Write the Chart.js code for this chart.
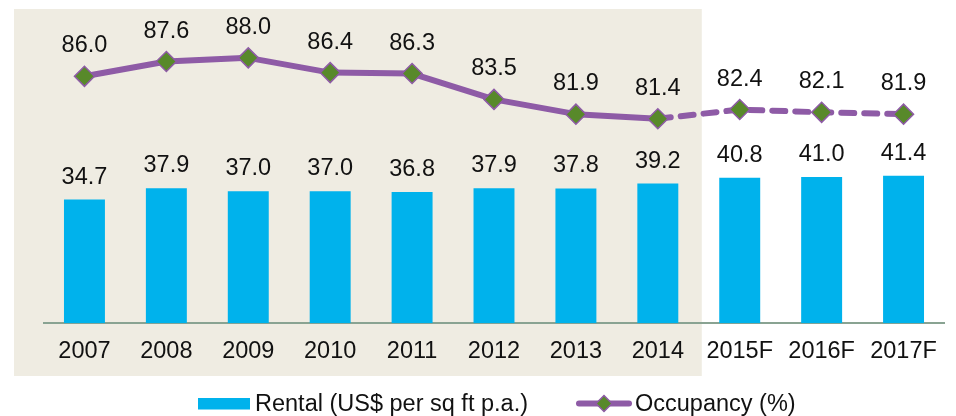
<!DOCTYPE html>
<html>
<head>
<meta charset="utf-8">
<title>Rental and Occupancy</title>
<script src="https://cdn.jsdelivr.net/npm/chart.js@4.4.0/dist/chart.umd.min.js"></script>
<style>
    html, body { margin: 0; padding: 0; background: #ffffff; }
    #wrap { width: 956px; height: 416px; }
</style>
</head>
<body>
<div id="wrap"><canvas id="chart" width="956" height="416"></canvas></div>
<script>
// Chart data
const years = ['2007', '2008', '2009', '2010', '2011', '2012', '2013', '2014', '2015F', '2016F', '2017F'];
const rental = [34.7, 37.9, 37.0, 37.0, 36.8, 37.9, 37.8, 39.2, 40.8, 41.0, 41.4];
const occupancy = [86.0, 87.6, 88.0, 86.4, 86.3, 83.5, 81.9, 81.4, 82.4, 82.1, 81.9];
const lastActual = 7; // index of 2014, forecasts start after it

const rentalLabel = 'Rental (US$ per sq ft p.a.)';
const occupancyLabel = 'Occupancy (%)';

const FONT = '"Liberation Sans", Arial, sans-serif';
const BLUE = '#00B2EC';
const PURPLE = '#8E5BA6';
const GREEN = '#58892A';
const SHADE = '#EFECE2';

/**
 * Shaded panel behind the actual (non forecast) years
 */
const shadePlugin = {
    id: 'shade',
    beforeDraw(chart) {
        const ctx = chart.ctx;
        const x = chart.scales.x;
        const right = (x.getPixelForValue(lastActual) + x.getPixelForValue(lastActual + 1)) / 2 + 3;
        ctx.save();
        ctx.fillStyle = SHADE;
        ctx.fillRect(14, 9, right - 14, 367);
        ctx.restore();
    }
};

/**
 * Value labels above bars and line points
 */
const valueLabelPlugin = {
    id: 'valueLabels',
    afterDatasetsDraw(chart) {
        const ctx = chart.ctx;
        ctx.save();
        ctx.font = '23.5px ' + FONT;
        ctx.fillStyle = '#111111';
        ctx.textAlign = 'center';
        ctx.textBaseline = 'alphabetic';
        chart.data.datasets.forEach((ds, i) => {
            const meta = chart.getDatasetMeta(i);
            const gap = ds.type === 'line' ? 24 : 16;
            meta.data.forEach((el, j) => {
                ctx.fillText(ds.data[j].toFixed(1), el.x, el.y - gap);
            });
        });
        ctx.restore();
    }
};

/**
 * Legend drawn under the axis
 */
const legendPlugin = {
    id: 'customLegend',
    afterDraw(chart) {
        const ctx = chart.ctx;
        const y = 403.5;
        ctx.save();
        ctx.fillStyle = BLUE;
        ctx.fillRect(198, 398, 52, 11.5);

        ctx.strokeStyle = PURPLE;
        ctx.lineWidth = 6;
        ctx.lineCap = 'round';
        ctx.beginPath();
        ctx.moveTo(579, y);
        ctx.lineTo(629, y);
        ctx.stroke();

        ctx.fillStyle = GREEN;
        ctx.strokeStyle = PURPLE;
        ctx.lineWidth = 1.5;
        ctx.beginPath();
        ctx.moveTo(604 - 8, y);
        ctx.lineTo(604, y - 8);
        ctx.lineTo(604 + 8, y);
        ctx.lineTo(604, y + 8);
        ctx.closePath();
        ctx.fill();
        ctx.stroke();

        ctx.font = '23.5px ' + FONT;
        ctx.fillStyle = '#111111';
        ctx.textAlign = 'left';
        ctx.textBaseline = 'middle';
        ctx.fillText(rentalLabel, 255, y + 1);
        ctx.fillText(occupancyLabel, 635, y + 1);
        ctx.restore();
    }
};

new Chart(document.getElementById('chart').getContext('2d'), {
    type: 'bar',
    data: {
        labels: years,
        datasets: [
            {
                type: 'line',
                label: occupancyLabel,
                data: occupancy,
                yAxisID: 'yOcc',
                order: 0,
                borderColor: PURPLE,
                borderWidth: 6,
                borderCapStyle: 'round',
                borderJoinStyle: 'round',
                tension: 0,
                pointStyle: 'rectRot',
                pointRadius: 10,
                pointBackgroundColor: GREEN,
                pointBorderColor: PURPLE,
                pointBorderWidth: 1.5,
                segment: {
                    borderDash: ctx => ctx.p0DataIndex >= lastActual ? [13, 10] : undefined
                }
            },
            {
                label: rentalLabel,
                data: rental,
                yAxisID: 'yRent',
                order: 1,
                backgroundColor: BLUE,
                barPercentage: 1,
                categoryPercentage: 0.5
            }
        ]
    },
    options: {
        responsive: false,
        animation: false,
        layout: {
            padding: { top: 38, left: 43.5, right: 11.3, bottom: 36.5 }
        },
        plugins: {
            legend: { display: false },
            tooltip: { enabled: false }
        },
        scales: {
            x: {
                grid: { display: false, drawTicks: false },
                border: { display: true, color: '#89A392', width: 2 },
                ticks: {
                    color: '#111111',
                    padding: 14,
                    maxRotation: 0,
                    autoSkip: false,
                    font: { family: FONT, size: 23.5 }
                }
            },
            yRent: {
                display: false,
                min: 0,
                max: 80
            },
            yOcc: {
                display: false,
                min: 59.25,
                max: 90.15
            }
        }
    },
    plugins: [shadePlugin, valueLabelPlugin, legendPlugin]
});
</script>
</body>
</html>
